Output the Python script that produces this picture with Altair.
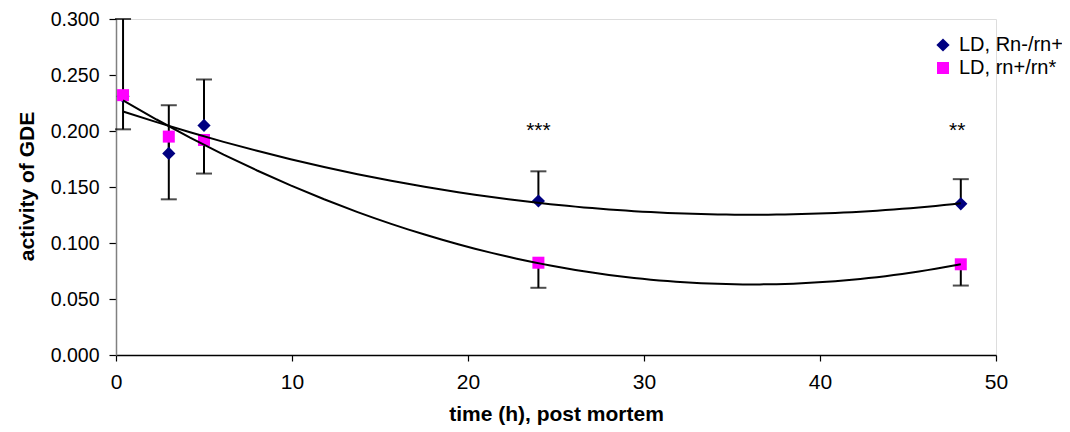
import altair as alt
import pandas as pd

# ---- data ----
time_h = [0.4, 3, 5, 24, 48]
series_names = ["LD, Rn-/rn+", "LD, rn+/rn*"]
rn_minus = [0.231, 0.180, 0.205, 0.1375, 0.135]          # navy diamonds
rn_minus_upper = [0.300, 0.223, 0.246, 0.164, 0.157]     # plus error bar ends
rn_plus = [0.232, 0.195, 0.192, 0.0824, 0.081]           # magenta squares
rn_plus_lower = [0.2015, 0.139, 0.162, 0.060, 0.062]     # minus error bar ends
star_x = [24, 47.8]
star_y = [0.195, 0.195]
star_text = ["***", "**"]
x_ticks = [0, 10, 20, 30, 40, 50]
y_ticks = [0.0, 0.05, 0.10, 0.15, 0.20, 0.25, 0.30]

rows = []
for t, v, e in zip(time_h, rn_minus, rn_minus_upper):
    rows.append({"series": series_names[0], "x": t, "y": v, "err_end": e})
for t, v, e in zip(time_h, rn_plus, rn_plus_lower):
    rows.append({"series": series_names[1], "x": t, "y": v, "err_end": e})
df = pd.DataFrame(rows)
stars = pd.DataFrame({"x": star_x, "y": star_y, "text": star_text})

FONT = "Liberation Sans"

x_axis = alt.Axis(
    values=x_ticks, format="d", grid=False, domainColor="black", domainWidth=1.5,
    tickColor="black", tickSize=6, tickWidth=1.2, labelFontSize=21, labelFont=FONT,
    labelColor="black", labelPadding=10, labelFlush=False, titleFont=FONT, titleFontSize=21,
    titleFontWeight="bold", titleColor="black", titleBaseline="alphabetic", titleY=65,
)
y_axis = alt.Axis(
    values=y_ticks, format=".3f", grid=False, domainColor="#808080", domainWidth=1.5,
    tickColor="black", tickSize=7, tickWidth=1.2, labelFontSize=19.5, labelFont=FONT,
    labelColor="black", labelPadding=10, labelFlush=False, titleFont=FONT, titleFontSize=21,
    titleFontWeight="bold", titleColor="black", titleBaseline="alphabetic",
    titleX=-83, titleY=167, titleAngle=-90,
)
x_scale = alt.Scale(domain=[0, 50], nice=False, zero=False, padding=0)
y_scale = alt.Scale(domain=[0, 0.3], nice=False, padding=0)

X = alt.X("x:Q", scale=x_scale, axis=x_axis, title="time (h), post mortem")
Y = alt.Y("y:Q", scale=y_scale, axis=y_axis, title="activity of GDE")
Yerr = alt.Y("err_end:Q", scale=y_scale, axis=y_axis, title="activity of GDE")

base = alt.Chart(df)

rules = base.mark_rule(color="black", strokeWidth=2).encode(x=X, y=Y, y2="err_end:Q")
caps = base.mark_tick(color="black", orient="horizontal", size=16, thickness=2).encode(x=X, y=Yerr)

points = base.mark_point(filled=True, opacity=1, strokeWidth=0).encode(
    x=X,
    y=Y,
    color=alt.Color("series:N", scale=alt.Scale(domain=series_names, range=["#000080", "#FF00FF"]),
                    title=None,
                    legend=alt.Legend(orient="none", legendX=817, legendY=16, padding=0,
                                      labelFont=FONT, labelFontSize=20, labelColor="black",
                                      symbolSize=110, rowPadding=3, labelOffset=6,
                                      symbolStrokeWidth=0)),
    shape=alt.Shape("series:N", scale=alt.Scale(domain=series_names, range=["diamond", "square"]),
                    title=None),
    size=alt.Size("series:N", scale=alt.Scale(domain=series_names, range=[175, 144]), legend=None),
)

trend = base.transform_regression(
    "x", "y", method="poly", order=2, groupby=["series"]
).mark_line(color="black", strokeWidth=2).encode(x=X, y=Y, detail="series:N")

star_layer = alt.Chart(stars).mark_text(
    font=FONT, fontSize=21, color="black", baseline="alphabetic", align="center"
).encode(x=X, y=Y, text="text:N")

chart = alt.layer(rules, caps, points, trend, star_layer).properties(
    width=880, height=336,
    autosize=alt.AutoSizeParams(type="none"),
    padding={"left": 108, "top": 11, "right": 66, "bottom": 70},
).configure_view(stroke=None).configure(background="white")

chart.save("out.html", embed_options={"renderer": "svg", "actions": False})
